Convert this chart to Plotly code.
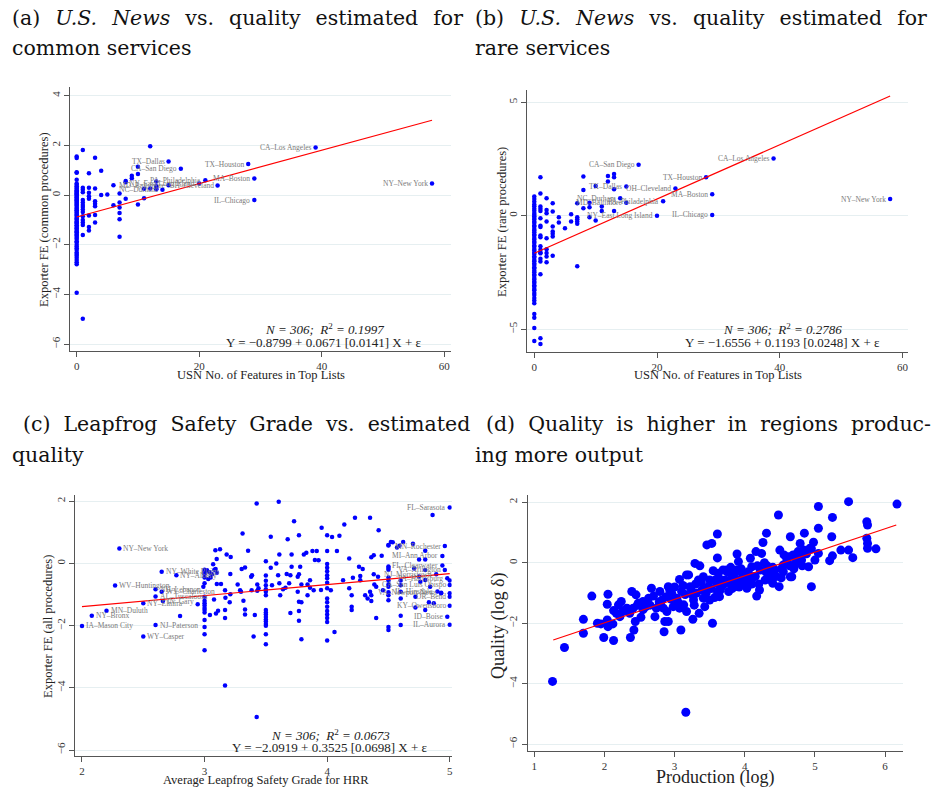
import plotly.graph_objects as go

W, H = 932, 791

# ---------------- Panel (a): USN features vs common-procedure FE ----------------
a_x = ([0]*66 + [1]*16 + [2]*8 + [3]*7 + [4]*2 + [5] + [6]*2 + [7]*6 + [8]*3 + [9]*2
       + [10]*3 + [11]*2 + [12]*2 + [13]*4)
a_y = [1.55, 1.49, 0.92, 0.90, 0.62, 0.47, 0.42, 0.36, 0.30, 0.26, 0.20, 0.16, 0.11, 0.06, 0.03,
       -0.02, -0.07, -0.10, -0.15, -0.19, -0.22, -0.27, -0.31, -0.36, -0.40, -0.44, -0.51, -0.55,
       -0.61, -0.64, -0.70, -0.76, -0.80, -0.84, -0.91, -0.95, -0.99, -1.06, -1.10, -1.14, -1.21,
       -1.24, -1.31, -1.34, -1.40, -1.46, -1.49, -1.56, -1.60, -1.65, -1.72, -1.77, -1.86, -1.91,
       -2.00, -2.07, -2.14, -2.21, -2.31, -2.37, -2.44, -2.52, -2.61, -2.70, -2.78, -3.93,
       1.82, 0.30, 0.22, 0.12, -0.20, -0.30, -0.40, -0.48, -0.58, -0.68, -0.85, -1.00, -1.10, -1.20, -1.60, -4.97,
       0.88, 0.30, 0.10, -0.05, -0.15, -0.82, -1.28, -1.42,
       1.50, 0.27, -0.25, -0.35, -0.45, -0.80, -1.10,
       0.98, 0.00,
       0.02,
       0.40, -0.41,
       0.06, -0.30, -0.50, -0.72, -0.97, -1.68,
       0.57, 0.52, -0.15,
       0.78, 0.68,
       1.14, 0.85, -0.38,
       0.26, -0.13,
       1.97, 0.27,
       0.55, 0.36, 0.30, 0.24]
a_lab_names = ["TX–Dallas", "CA–San Diego", "PA–Philadelphia", "MD–Baltimore", "NY–East Long Island",
               "NC–Durham", "OH–Cleveland", "TX–Houston", "MA–Boston", "IL–Chicago", "CA–Los Angeles", "NY–New York"]
a_lab_x = [15, 17, 21, 15, 20, 14, 23, 28, 29, 29, 39, 58]
a_lab_y = [1.35, 1.06, 0.60, 0.40, 0.47, 0.22, 0.39, 1.25, 0.67, -0.20, 1.92, 0.47]
a_fit = (-0.8799, 0.0671)
a_fit_x = [0, 58]

# ---------------- Panel (b): USN features vs rare-procedure FE ----------------
b_x = ([0]*60 + [1]*19 + [2]*9 + [3]*7 + [4]*2 + [5] + [6]*2 + [7]*6 + [8]*3 + [9]*3
       + [10]*2 + [11]*2 + [12]*2 + [13]*4)
b_y = [0.84, 0.73, 0.61, 0.49, 0.41, 0.30, 0.21, 0.12, 0.04, -0.03, -0.11, -0.17, -0.27, -0.33,
       -0.43, -0.49, -0.59, -0.66, -0.73, -0.83, -0.89, -0.99, -1.05, -1.15, -1.21, -1.31, -1.37,
       -1.47, -1.53, -1.63, -1.69, -1.79, -1.85, -1.95, -2.01, -2.11, -2.17, -2.27, -2.33, -2.43,
       -2.49, -2.59, -2.65, -2.75, -2.81, -2.91, -2.97, -3.07, -3.13, -3.23, -3.29, -3.41, -3.49,
       -3.63, -3.74, -3.86, -4.33, -4.50, -4.95, -5.52,
       1.69, 0.97, 0.40, 0.30, 0.20, -0.12, -0.45, -0.50, -0.88, -0.95, -1.35, -1.50, -1.62, -1.66,
       -1.90, -2.02, -2.58, -5.40, -5.65,
       0.76, 0.25, 0.10, -0.26, -1.00, -1.48, -1.65, -1.80, -2.05,
       0.54, 0.18, -0.48, -0.70, -0.80, -0.92, -1.77,
       -0.07, -0.30,
       -0.56,
       0.06, -0.26,
       0.54, -0.07, -0.16, -0.26, -0.36, -2.23,
       1.72, 1.13, 0.32,
       0.57, 0.37, -0.07,
       1.30, -0.22,
       0.40, 0.20,
       1.74, 1.50,
       1.83, 1.69, 1.16, 0.20]
b_lab_names = ["CA–San Diego", "CA–Los Angeles", "TX–Houston", "TX–Dallas", "OH–Cleveland", "MA–Boston",
               "NY–New York", "NC–Durham", "MD–Baltimore", "PA–Philadelphia", "NY–East Long Island", "IL–Chicago"]
b_lab_x = [17, 39, 28, 15, 23, 29, 58, 14, 15, 21, 20, 29]
b_lab_y = [2.24, 2.52, 1.69, 1.28, 1.19, 0.94, 0.73, 0.76, 0.57, 0.63, 0.00, 0.03]
b_fit = (-1.6556, 0.1193)
b_fit_x = [0, 58]

# ---------------- Panel (c): Leapfrog grade vs all-procedure FE ----------------
c_x = ([3.0]*17 + [3.02, 3.04, 3.06, 3.08, 3.05, 3.03, 3.10]
       + [3.425, 3.605, 3.73, 3.31, 3.54, 3.678, 3.77, 3.088, 3.126, 3.18, 3.213, 3.099, 3.07, 3.09,
          3.355, 3.303, 3.33, 3.387, 3.38, 3.21, 3.10, 3.134, 3.167, 3.17, 3.21, 3.205, 3.077, 3.044,
          3.093, 3.11, 3.167, 3.167, 3.167, 3.27, 3.29, 3.297, 3.317, 3.33, 3.33, 3.384, 3.41, 3.40,
          3.425, 3.43, 3.44, 3.43]
       + [3.5]*17
       + [3.60, 3.585, 3.61, 3.54, 3.55, 3.61, 3.64, 3.617, 3.66, 3.67, 3.69, 3.70, 3.71, 3.71, 3.70,
          3.76, 3.77, 3.78, 3.79, 3.76, 3.77, 3.79, 3.77, 3.77, 3.79, 3.81, 3.83, 3.84, 3.86, 3.84,
          3.88, 3.90]
       + [4.227, 4.35, 4.14, 3.955, 4.04, 4.00, 4.10, 4.42, 3.915, 4.00, 4.08, 4.18, 4.36, 4.38, 4.445,
          4.50, 4.535, 4.57, 4.59, 3.93]
       + [4.0]*15
       + [4.06, 3.89, 3.86, 3.95, 4.03, 4.13, 4.21, 4.27, 4.27, 4.18, 4.20, 4.20, 4.20, 4.26, 4.29,
          4.31, 4.35, 4.36, 4.33, 4.36, 4.38, 4.385, 4.40, 4.415, 4.40, 4.455]
       + [4.5]*13 + [4.6]*6
       + [4.52, 4.62, 4.70, 4.75, 4.80, 4.80, 4.86, 4.71, 4.75, 4.76, 4.80, 4.80, 4.84, 4.72, 4.72,
          4.80, 5.0, 5.0, 4.93, 4.83, 4.87]
       + [2.944, 2.80, 2.99])
c_y = ([-0.20, -0.25, -0.30, -0.34, -0.45, -0.64, -1.07, -1.20, -1.28, -1.35, -1.43, -1.50, -1.58,
        -1.82, -2.04, -2.28, -2.79]
       + [-0.22, -0.28, -0.35, -0.20, -0.45, -0.50, -0.30]
       + [1.93, 1.98, 1.36, 0.96, 0.86, 0.78, 0.91, 0.42, 0.46, 0.29, 0.21, 0.14, -0.03, -0.18,
          0.41, -0.18, -0.13, -0.38, -0.43, -0.34, -0.66, -0.66, -0.86, -1.10, -0.99, -1.25, -1.16, -1.66,
          -1.61, -1.52, -1.50, -1.75, -3.92, -0.68, -0.86, -0.91, -1.20, -1.48, -1.64, -0.86, -1.66, -2.35,
          -4.94, -0.68, -0.80, -0.88]
       + [0.07, -0.39, -0.56, -0.70, -0.83, -0.91, -1.02, -1.50, -1.58, -1.64, -1.72, -1.80, -1.87,
          -1.95, -2.00, -2.28, -2.60]
       + [-0.38, 0.00, 0.29, -0.14, -0.70, -0.64, -0.83, -1.02, -0.78, -0.34, -0.64, -0.38, 0.29, -0.11,
          -1.59, -0.43, -0.35, -0.11, -0.68, -0.91, -1.23, -1.25, -1.53, -1.84, -2.44, 0.29, 0.34, -0.68,
          -0.78, -1.02, 0.40, 0.11]
       + [1.47, 1.47, 1.25, 1.15, 0.85, 0.91, 0.89, 1.07, 0.40, 0.40, 0.40, 0.16, 0.20, 0.26, 0.25,
          0.59, 0.68, 0.51, 0.57, 0.10]
       + [-0.02, -0.14, -0.25, -0.38, -0.48, -0.62, -0.80, -1.13, -1.25, -1.39, -1.53, -1.64, -1.75,
          -1.88, -2.48]
       + [-2.20, -0.86, -0.54, -0.85, -0.86, -0.54, -0.46, -0.54, -0.40, -0.80, -1.02, -1.39, -1.50,
          -0.11, -0.18, -1.02, -0.91, -1.02, -1.13, -1.21, -0.35, -0.68, -0.75, -0.43, -1.75, -0.86]
       + [0.58, -0.10, -0.15, -0.20, -0.45, -0.55, -0.68, -0.75, -0.93, -1.02, -1.18, -2.04, -2.14]
       + [-0.55, -0.70, -0.91, -1.13, -1.68, -1.98]
       + [0.69, 0.69, 0.63, 0.13, 0.41, 0.13, 1.56, -0.16, -0.42, -0.59, -0.21, -0.53, -0.75, -1.07,
          -1.42, -1.50, -0.55, -0.96, -0.96, -1.25, -1.28]
       + [-1.31, -1.69, -0.75])
c_labL_names = ["NY–New York", "NY–White Plains", "NY–Albany", "WV–Huntington", "NH–Lebanon",
                "WV–Charleston", "AL–Tuscaloosa", "IN–Gary", "NY–Elmira", "MN–Duluth", "NY–Bronx",
                "IA–Mason City", "NJ–Paterson", "WY–Casper"]
c_labL_x = [2.305, 2.65, 2.77, 2.27, 2.60, 2.65, 2.60, 2.66, 2.50, 2.20, 2.08, 2.00, 2.60, 2.50]
c_labL_y = [0.48, -0.27, -0.38, -0.71, -0.83, -0.91, -1.06, -1.21, -1.28, -1.52, -1.68, -2.01, -1.98, -2.35]
c_labR_names = ["FL–Sarasota", "MN–Rochester", "MI–Ann Arbor", "FL–Clearwater", "VA–Arlington",
                "NJ–Morristown", "PA–Harrisburg", "CA–San Luis Obispo", "IL–Hinsdale", "VA–Newport News",
                "OR–Bend", "KY–Owensboro", "ID–Boise", "IL–Aurora"]
c_labR_x = [5.0, 4.96, 4.94, 4.94, 4.96, 4.89, 4.98, 5.0, 4.90, 4.93, 5.0, 5.0, 4.98, 5.0]
c_labR_y = [1.80, 0.56, 0.24, -0.07, -0.21, -0.35, -0.48, -0.69, -0.90, -0.94, -1.07, -1.36, -1.71, -1.97]
c_fit = (-2.0919, 0.3525)
c_fit_x = [2, 5]

# ---------------- Panel (d): production vs quality ----------------
d_x = [1.26, 1.43, 1.70, 1.70, 1.82, 1.90, 1.95, 1.99, 2.04, 2.05, 2.04, 2.05, 2.13, 2.12, 2.13, 2.17,
       2.20, 2.24, 2.22, 2.26, 2.29, 2.32, 2.36, 2.37, 2.39, 2.42, 2.44, 2.45, 2.41, 2.47, 2.48, 2.52,
       2.55, 2.59, 2.63, 2.67, 2.72, 2.74, 2.79, 2.82, 2.85, 2.86, 2.91, 2.89, 2.84, 2.88, 2.91, 2.93,
       2.96, 2.98, 3.03, 3.07, 3.10, 3.09, 3.07, 3.13, 3.17, 3.16, 3.20, 3.23, 3.27, 3.26, 3.29, 3.31,
       3.34, 3.36, 3.35, 3.39, 3.41, 3.43, 3.46, 3.53, 3.48, 3.50, 3.54, 3.55, 3.58, 3.61, 3.61, 3.61,
       3.64, 3.62, 3.67, 3.72, 3.74, 3.77, 3.79, 3.84, 3.86, 3.89, 3.91, 3.88, 3.93, 3.96, 4.00, 4.03,
       4.05, 4.08, 4.10, 4.12, 4.16, 4.17, 4.21, 4.22, 4.24, 4.26, 4.29, 4.31, 4.32, 4.36, 4.40, 4.43,
       4.48, 4.49, 4.50, 4.53, 4.56, 4.61, 4.65, 4.65, 4.68, 4.72, 4.76, 4.79, 4.81, 4.85, 4.84, 4.91,
       4.95, 4.95, 4.98, 5.00, 5.05, 5.05, 5.05, 5.21, 5.24, 5.25, 5.25, 5.37, 5.48, 5.48, 5.54, 5.74,
       5.75, 5.74, 5.75, 5.75, 5.87, 6.17,
       3.17, 3.22, 3.41, 3.50, 3.60, 3.65, 3.69, 3.81, 3.85, 3.98, 4.02, 4.15, 4.55, 4.60, 4.67, 4.69,
       4.74, 4.93, 3.00, 3.05, 3.15, 3.25, 3.30, 3.45, 3.57, 3.70, 3.75, 3.82, 3.90, 3.95, 4.05, 4.10,
       4.20, 4.30, 4.35, 4.45, 4.55, 4.62, 4.70, 4.78, 4.88, 2.55, 2.65, 2.70, 2.78, 2.95, 3.12, 3.28,
       3.38, 3.52, 3.63, 3.80, 3.92, 4.08, 4.18, 4.28, 4.40, 4.52, 4.64, 4.75, 4.82]
d_y = [-3.92, -2.80, -1.87, -2.33, -1.10, -2.00, -2.02, -2.47, -1.89, -1.04, -1.37, -2.11, -2.57, -2.02,
       -1.58, -1.67, -1.39, -1.28, -1.78, -1.61, -1.56, -1.50, -1.67, -2.47, -0.95, -2.22, -1.94, -1.06,
       -1.50, -1.40, -1.34, -1.80, -1.28, -1.45, -1.17, -0.84, -1.78, -1.50, -0.95, -1.23, -2.28, -1.94,
       -1.94, -1.61, -1.50, -1.12, -0.79, -0.90, -1.01, -1.45, -1.17, -0.55, -0.95, -2.22, -1.50, -1.39,
       -1.61, -4.94, -0.40, -0.84, -1.23, -1.87, -0.02, -1.01, -0.57, -0.10, -1.67, -0.90, -1.17, -1.45,
       0.59, 0.64, -0.79, -1.23, -2.00, -0.26, -0.57, 0.95, 0.16, -0.95, -1.12, -0.35, -0.79, -0.57,
       -0.24, -0.95, -0.68, -0.46, -0.79, 0.29, 0.04, -0.24, -0.57, -0.35, -0.40, -0.84, -0.57, 0.15,
       -0.13, -0.46, 0.37, -1.10, -0.90, -0.24, 0.31, 0.67, -0.57, 0.98, -0.10, -0.35, -0.68, -0.24,
       1.58, -0.79, 0.42, -0.18, 0.26, 0.00, -0.46, 0.86, 0.23, -0.02, 0.37, 0.64, 0.09, 0.98, 0.42,
       -0.13, 0.46, -0.79, 0.68, 0.09, 1.86, 1.14, 0.31, 0.07, 0.86, 1.50, 0.23, 0.42, 2.02, 0.42, 0.17,
       1.36, 1.25, 0.81, 0.64, 0.48, 0.46, 1.94,
       -0.40, -0.79, -0.46, -0.57, -0.68, -0.90, -0.24, -0.51, -0.35, -0.46, -0.68, -0.45, -0.07, 0.09,
       -0.46, 0.26, -0.02, 0.48, -0.80, -1.30, -1.05, -1.05, -0.70, -1.00, -1.15, -0.70, -0.30, -0.85,
       -0.60, -0.20, -0.30, -0.70, -0.70, -0.30, -0.55, -0.45, -0.30, 0.20, -0.20, 0.20, 0.30, -1.55,
       -1.40, -1.10, -1.30, -1.20, -0.75, -1.40, -0.65, -0.85, -0.50, -0.15, -0.80, -0.55, -0.10, 0.00,
       -0.15, -0.50, -0.10, 0.30, -0.10]
d_fit = (-3.537, 0.777)
d_fit_x = [1.27, 6.16]

# ---------------- Text ----------------
NB = "\u00a0"
HS = "\u200a"
title_lines = [
    ["(a)", "<i>U.S.</i>", "<i>News</i>", "vs.", "quality", "estimated", "for"],
    ["common services"],
    ["(b)", "<i>U.S.</i>", "<i>News</i>", "vs.", "quality", "estimated", "for"],
    ["rare services"],
    ["(c)", "Leapfrog", "Safety", "Grade", "vs.", "estimated"],
    ["quality"],
    ["(d)", "Quality", "is", "higher", "in", "regions", "produc-"],
    ["ing more output"],
]
stats_n = ["<i>N = 306;  R</i><sup>2</sup><i> = 0.1997</i>",
           "<i>N = 306;  R</i><sup>2</sup><i> = 0.2786</i>",
           "<i>N = 306;  R</i><sup>2</sup><i> = 0.0673</i>"]
stats_eq = ["Y = −0.8799 + 0.0671 [0.0141] X + ε",
            "Y = −1.6556 + 0.1193 [0.0248] X + ε",
            "Y = −2.0919 + 0.3525 [0.0698] X + ε"]

# ---------------- Figure ----------------
SERIF = "Liberation Serif"
TSERIF = "DejaVu Serif"
BLUE = "#0000ff"
fig = go.Figure()


def px(x):
    return x / W


def py(y):
    return 1 - y / H


def add_points(xs, ys, xa, ya, size):
    fig.add_trace(go.Scatter(x=xs, y=ys, mode="markers", xaxis=xa, yaxis=ya,
                             marker=dict(color=BLUE, size=size, line=dict(width=0)),
                             showlegend=False, hoverinfo="skip"))


def add_fit(fit, xr, xa, ya):
    b0, b1 = fit
    fig.add_trace(go.Scatter(x=xr, y=[b0 + b1 * v for v in xr], mode="lines", xaxis=xa, yaxis=ya,
                             line=dict(color="red", width=1.2), showlegend=False, hoverinfo="skip"))


add_points(a_x + a_lab_x, a_y + a_lab_y, "x", "y", 4.5)
add_fit(a_fit, a_fit_x, "x", "y")
add_points(b_x + b_lab_x, b_y + b_lab_y, "x2", "y2", 4.5)
add_fit(b_fit, b_fit_x, "x2", "y2")
add_points(c_x + c_labL_x + c_labR_x, c_y + c_labL_y + c_labR_y, "x3", "y3", 4.5)
add_fit(c_fit, c_fit_x, "x3", "y3")
add_points(d_x, d_y, "x4", "y4", 9)
add_fit(d_fit, d_fit_x, "x4", "y4")

AXC = "#555555"
TICKF = dict(family=SERIF, size=11, color="#333333")


def xax(dom, rng, tv, anchor):
    return dict(domain=[px(dom[0]), px(dom[1])], range=rng, tickvals=tv,
                ticktext=[str(v) for v in tv], anchor=anchor, showline=True, linecolor=AXC,
                linewidth=1, ticks="outside", ticklen=5, tickcolor=AXC, showgrid=False,
                zeroline=False, tickfont=TICKF)


def yax(dom, rng, tv, anchor):
    return dict(domain=[py(dom[1]), py(dom[0])], range=rng, tickvals=tv,
                ticktext=[str(v).replace("-", "−") for v in tv], anchor=anchor, showline=True,
                linecolor=AXC, linewidth=1, ticks="outside", ticklen=5, tickcolor=AXC,
                showgrid=True, gridcolor="#e6eff1", gridwidth=1, zeroline=False,
                tickangle=-90, tickfont=TICKF)


fig.update_layout(
    width=W, height=H, margin=dict(l=0, r=0, t=0, b=0),
    paper_bgcolor="white", plot_bgcolor="white",
    xaxis=xax((70, 451), [-1.09, 61.1], [0, 20, 40, 60], "y"),
    yaxis=yax((87, 350.7), [-6.26, 4.35], [-6, -4, -2, 0, 2, 4], "x"),
    xaxis2=xax((527.3, 908.3), [-1.14, 60.96], [0, 20, 40, 60], "y2"),
    yaxis2=yax((90, 351.7), [-5.99, 5.53], [-5, 0, 5], "x2"),
    xaxis3=xax((75, 451.7), [1.943, 5.016], [2, 3, 4, 5], "y3"),
    yaxis3=yax((495, 756), [-6.19, 2.2], [-6, -4, -2, 0, 2], "x3"),
    xaxis4=xax((527.7, 903.3), [0.906, 6.26], [1, 2, 3, 4, 5, 6], "y4"),
    yaxis4=yax((495, 751), [-6.22, 2.24], [-6, -4, -2, 0, 2], "x4"),
)

ann = []
# Panel titles (justified first lines -> widened word gaps)
title_pos = [(10, 18, NB + HS), (10, 48, ""), (473, 18, NB + HS), (473, 48, ""),
             (21, 424, NB), (10, 455, ""), (484, 424, NB), (473, 455, "")]
for words, (x0, yc, gap) in zip(title_lines, title_pos):
    ann.append(dict(text=(" " + gap).join(words), x=px(x0), y=py(yc), xref="paper", yref="paper",
                    xanchor="left", yanchor="middle", align="left", showarrow=False,
                    font=dict(family=TSERIF, size=20.5, color="#111111")))

# Axis titles
ax_titles = [
    ("Exporter FE (common procedures)", 44, 220, -90, 12.5),
    ("USN No. of Features in Top Lists", 261, 375, 0, 12.5),
    ("Exporter FE (rare procedures)", 502, 222, -90, 12.5),
    ("USN No. of Features in Top Lists", 718, 375, 0, 12.5),
    ("Exporter FE (all procedures)", 48, 627, -90, 12.5),
    ("Average Leapfrog Safety Grade for HRR", 266, 780, 0, 12.5),
    ("Quality (log δ)", 498, 626, -90, 18),
    ("Production (log)", 715, 777, 0, 18),
]
for t, x0, y0, ang, fs in ax_titles:
    ann.append(dict(text=t, x=px(x0), y=py(y0), xref="paper", yref="paper", xanchor="center",
                    yanchor="middle", textangle=ang, showarrow=False,
                    font=dict(family=SERIF, size=fs, color="#222222")))

# Regression stats
for sn, se, (xc, y1, y2) in zip(stats_n, stats_eq, [(324, 329, 342), (782, 329, 342), (330, 735, 747)]):
    ann.append(dict(text=sn, x=px(xc), y=py(y1), xref="paper", yref="paper", xanchor="center",
                    yanchor="middle", showarrow=False, font=dict(family=SERIF, size=13, color="#222222")))
    ann.append(dict(text=se, x=px(xc), y=py(y2), xref="paper", yref="paper", xanchor="center",
                    yanchor="middle", showarrow=False, font=dict(family=SERIF, size=13, color="#222222")))

LABF = dict(family=SERIF, size=7.5, color="#7a7a7a")


def add_labels(names, xs, ys, xa, ya, side):
    for n, x, y in zip(names, xs, ys):
        ann.append(dict(text=n, x=x, y=y, xref=xa, yref=ya, showarrow=False, font=LABF,
                        xanchor="right" if side == "left" else "left",
                        xshift=-2 if side == "left" else 2, yanchor="middle"))


add_labels(a_lab_names, a_lab_x, a_lab_y, "x", "y", "left")
add_labels(b_lab_names, b_lab_x, b_lab_y, "x2", "y2", "left")
add_labels(c_labL_names, c_labL_x, c_labL_y, "x3", "y3", "right")
add_labels(c_labR_names, c_labR_x, c_labR_y, "x3", "y3", "left")

fig.update_layout(annotations=ann)
fig.write_html("out.html", config={"displayModeBar": False},
               post_script="document.body.style.margin='0';document.body.style.overflow='hidden';")
